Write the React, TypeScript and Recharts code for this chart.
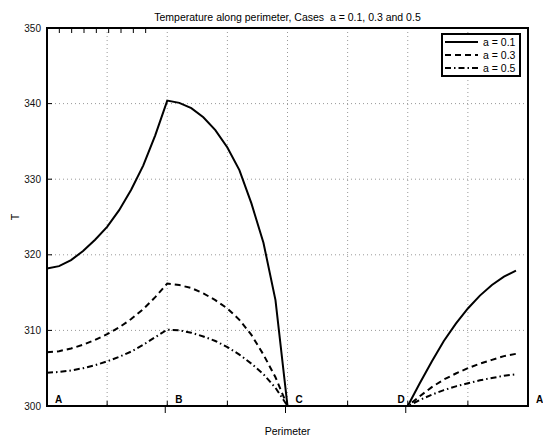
import { LineChart, Line, XAxis, YAxis, CartesianGrid, ReferenceArea, Legend } from "recharts";

// position along the perimeter (A=0, B=2, C=4, D=6, back to A=8)
const perimeter = [
  0, 0.2, 0.4, 0.6, 0.8, 1, 1.2, 1.4, 1.6, 1.8,
  2, 2.2, 2.4, 2.6, 2.8, 3, 3.2, 3.4, 3.6, 3.8,
  4, 4.2, 4.4, 4.6, 4.8, 5, 5.2, 5.4, 5.6, 5.8,
  6, 6.2, 6.4, 6.6, 6.8, 7, 7.2, 7.4, 7.6, 7.8,
];

const tempA01 = [
  318.2, 318.5, 319.3, 320.5, 322.0, 323.7, 325.9, 328.6, 331.8, 335.8,
  340.4, 340.1, 339.4, 338.2, 336.5, 334.2, 331.2, 326.8, 321.6, 314.0,
  300, 300, 300, 300, 300, 300, 300, 300, 300, 300,
  300, 303.0, 305.9, 308.6, 310.9, 312.9, 314.6, 316.0, 317.1, 317.9,
];

const tempA03 = [
  307.1, 307.25, 307.6, 308.1, 308.75, 309.5, 310.4, 311.5, 312.8, 314.4,
  316.2, 316.0, 315.6, 314.9, 314.0, 312.9, 311.4, 309.4, 306.8, 303.8,
  300, 300, 300, 300, 300, 300, 300, 300, 300, 300,
  300, 301.3, 302.5, 303.5, 304.3, 305.0, 305.6, 306.1, 306.6, 306.9,
];

const tempA05 = [
  304.4, 304.5, 304.7, 305.0, 305.4, 305.9, 306.5, 307.2, 308.1, 309.1,
  310.1, 310.0, 309.7, 309.2, 308.6, 307.8, 306.8, 305.6, 304.2, 302.4,
  300, 300, 300, 300, 300, 300, 300, 300, 300, 300,
  300, 300.8, 301.5, 302.1, 302.6, 303.0, 303.4, 303.7, 304.0, 304.2,
];

const gridTicks = [0, 1, 2, 3, 4, 5, 6, 7, 8];
const tempTicks = [300, 310, 320, 330, 340, 350];
const cornerTicks = [0, 2, 4, 6, 8];
const cornerNames = ["A", "B", "C", "D", "A"];
const seriesNames = ["a = 0.1", "a = 0.3", "a = 0.5"];

const series = [
  { key: "a01", name: seriesNames[0], dash: undefined as string | undefined },
  { key: "a03", name: seriesNames[1], dash: "6 4" },
  { key: "a05", name: seriesNames[2], dash: "6 3 1.5 3" },
];

const data = perimeter.map((p, i) => ({
  p,
  a01: tempA01[i],
  a03: tempA03[i],
  a05: tempA05[i],
}));

const FONT = "'Liberation Sans', Arial, Helvetica, sans-serif";
const xMin = gridTicks[0];
const xMax = gridTicks[gridTicks.length - 1];

function PerimeterTick({ x, y, payload }: any) {
  const v = payload.value;
  const idx = cornerTicks.indexOf(v);
  const name = idx >= 0 ? cornerNames[idx] : null;
  const inner = v > xMin && v < xMax;
  return (
    <g>
      {inner && <line x1={x} y1={y} x2={x} y2={y - 5} stroke="#000" />}
      {name && inner && <line x1={x - 2} y1={y} x2={x - 2} y2={y + 7} stroke="#000" />}
      {name && (
        <text
          x={name === "D" ? x - 3 : x + 8}
          y={y - 3}
          textAnchor={name === "D" ? "end" : "start"}
          fontFamily={FONT}
          fontWeight="bold"
          fontSize={10}
          fill="#000"
        >
          {name}
        </text>
      )}
    </g>
  );
}

function TopTick({ x, y }: any) {
  return <line x1={x} y1={y} x2={x} y2={y + 5} stroke="#000" />;
}

function TempTick({ x, y, payload }: any) {
  return (
    <g>
      <line x1={x} y1={y} x2={x + 5} y2={y} stroke="#000" />
      <text x={x - 6} y={y} dy="0.35em" textAnchor="end" fontFamily={FONT} fontSize={10} fill="#111">
        {payload.value}
      </text>
    </g>
  );
}

function RightTick({ x, y }: any) {
  return <line x1={x} y1={y} x2={x - 5} y2={y} stroke="#000" />;
}

function LegendBox() {
  return (
    <div
      style={{
        width: 76,
        height: 40,
        border: "2px solid #000",
        background: "#fff",
        fontFamily: FONT,
        fontSize: 10.5,
        color: "#000",
      }}
    >
      {series.map((s) => (
        <div key={s.key} style={{ display: "flex", alignItems: "center", height: 13.33 }}>
          <svg width={36} height={8} style={{ marginLeft: 2, marginRight: 2 }}>
            <line x1={0} y1={4} x2={33} y2={4} stroke="#000" strokeWidth={2} strokeDasharray={s.dash} />
          </svg>
          <span style={{ lineHeight: "12px" }}>{s.name}</span>
        </div>
      ))}
    </div>
  );
}

export default function App() {
  return (
    <div style={{ position: "absolute", left: 0, top: 0, width: 543, height: 439, background: "#fff" }}>
      <div
        style={{
          position: "absolute",
          left: 47,
          width: 481,
          top: 11,
          textAlign: "center",
          fontFamily: FONT,
          fontSize: 10.5,
          lineHeight: "12px",
          color: "#000",
        }}
      >
        Temperature along perimeter, Cases&nbsp;&nbsp;a = 0.1, 0.3 and 0.5
      </div>
      <LineChart width={543} height={439} data={data} margin={{ top: 27, right: 14, bottom: 0, left: 0 }}>
        <CartesianGrid stroke="#999" strokeDasharray="1 3" />
        <XAxis
          dataKey="p"
          type="number"
          domain={[xMin, xMax]}
          ticks={gridTicks}
          height={33}
          axisLine={false}
          tickLine={false}
          tickSize={0}
          tickMargin={0}
          tick={<PerimeterTick />}
          interval={0}
          label={{ value: "Perimeter", position: "insideBottom", offset: 4, fontFamily: FONT, fontSize: 10.5, fill: "#000" }}
        />
        <XAxis
          xAxisId="top"
          orientation="top"
          type="number"
          domain={[xMin, xMax]}
          ticks={gridTicks}
          height={1}
          axisLine={false}
          tickLine={false}
          tickSize={0}
          tickMargin={0}
          tick={<TopTick />}
          interval={0}
        />
        <YAxis
          type="number"
          domain={[300, 350]}
          ticks={tempTicks}
          width={47}
          axisLine={false}
          tickLine={false}
          tickSize={0}
          tickMargin={0}
          tick={<TempTick />}
          interval={0}
          label={(props: any) => {
            const vb = props.viewBox;
            const cx = vb.x + 15;
            const cy = vb.y + vb.height / 2;
            return (
              <text x={cx} y={cy} transform={`rotate(-90 ${cx} ${cy})`} textAnchor="middle" dy="0.35em" fontFamily={FONT} fontSize={10.5} fill="#000">
                T
              </text>
            );
          }}
        />
        <YAxis
          yAxisId="right"
          orientation="right"
          type="number"
          domain={[300, 350]}
          ticks={tempTicks}
          width={1}
          axisLine={false}
          tickLine={false}
          tickSize={0}
          tickMargin={0}
          tick={<RightTick />}
          interval={0}
        />
        {series.map((s) => (
          <Line
            key={s.key}
            type="linear"
            dataKey={s.key}
            name={s.name}
            stroke="#000"
            strokeWidth={2}
            strokeDasharray={s.dash}
            dot={false}
            activeDot={false}
            isAnimationActive={false}
          />
        ))}
        <ReferenceArea x1={xMin} x2={xMax} y1={300} y2={350} fill="none" stroke="#000" strokeWidth={2} />
        <Legend
          layout="vertical"
          align="center"
          verticalAlign="middle"
          content={<LegendBox />}
          wrapperStyle={{ left: 441, top: 33, width: 80, height: 44 }}
        />
      </LineChart>
    </div>
  );
}
